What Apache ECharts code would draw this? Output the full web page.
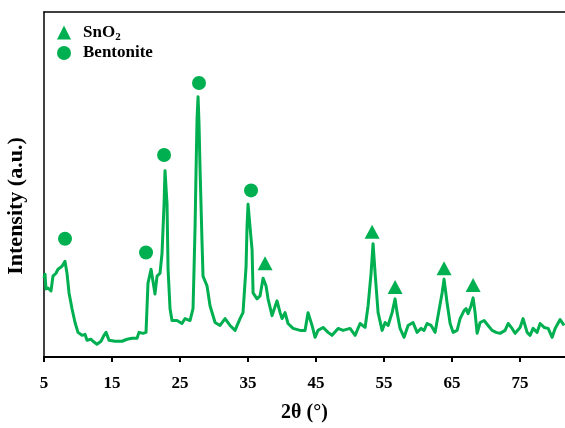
<!DOCTYPE html>
<html>
<head>
<meta charset="utf-8">
<title>XRD</title>
<script src="https://cdn.jsdelivr.net/npm/echarts@6/dist/echarts.min.js"></script>
<style>
  html, body { margin: 0; padding: 0; background: #fff; }
  #main { width: 565px; height: 428px; }
</style>
</head>
<body>
<div id="main"></div>
<script>
// 2theta (deg) / intensity (a.u.)
const twoTheta = [5.00,5.15,5.29,5.59,6.03,6.32,6.76,7.06,7.65,8.09,8.38,8.68,9.12,9.56,10.00,10.59,11.03,11.32,11.91,12.21,
  12.79,13.38,13.82,14.12,14.56,15.44,16.47,17.21,17.94,18.68,18.97,19.56,20.00,20.29,20.74,21.32,21.62,22.06,22.35,22.65,
  22.79,23.09,23.24,23.53,23.82,24.56,25.29,25.74,26.47,26.91,27.06,27.21,27.35,27.50,27.65,27.79,27.94,28.24,28.38,28.97,
  29.41,30.15,30.88,31.62,32.35,33.09,33.82,34.26,34.71,34.85,35.00,35.29,35.59,35.74,36.32,36.76,37.21,37.65,37.94,38.53,
  39.26,39.71,40.00,40.44,40.88,41.62,42.65,43.38,43.82,44.41,44.85,45.29,46.03,46.76,47.35,48.24,48.97,50.00,50.74,51.47,
  52.21,52.65,53.09,53.38,53.68,54.12,54.71,55.15,55.59,56.18,56.62,56.91,57.35,57.94,58.53,59.26,59.85,60.44,60.88,61.32,
  61.91,62.50,62.94,63.53,63.82,64.26,64.71,65.15,65.74,66.18,66.76,67.06,67.35,67.79,68.09,68.38,68.68,69.12,69.71,70.29,
  70.88,71.47,72.06,72.79,73.24,73.82,74.26,75.00,75.44,76.03,76.47,76.91,77.50,77.94,78.53,79.12,79.71,80.15,80.88,81.47];
const intensity = [80,84,69,70,67,82,85,89,92,97,85,65,49,35,25,22,23,17,18,16,
  13,16,22,25,17,16,16,18,19,19,25,24,25,75,89,64,82,85,105,155,
  189,155,89,49,37,37,34,39,37,49,89,132,187,242,264,237,192,115,82,72,
  52,35,32,39,32,27,39,45,92,132,155,132,109,65,59,62,80,72,59,42,
  57,45,39,45,34,29,27,27,45,32,20,27,30,25,22,29,27,29,22,34,
  30,52,85,115,85,45,27,35,32,45,59,45,29,20,32,35,25,29,27,34,
  32,25,42,65,79,55,34,25,27,39,47,49,44,52,60,45,24,35,37,32,
  27,25,24,27,34,29,24,30,39,25,22,29,25,34,30,29,20,29,38,32];

// phase markers
const snO2X = [37.5, 53.24, 56.62, 63.82, 68.09];
const snO2Y = [95, 127, 71, 90, 73];
const bentX = [8.09, 20.0, 22.65, 27.79, 35.44];
const bentY = [120, 106, 205, 278, 169];

const xTicks = [5, 15, 25, 35, 45, 55, 65, 75];

const green = '#00B050';
const serif = 'Liberation Serif';

function pairs(xs, ys) {
  return xs.map((x, i) => [x, ys[i]]);
}

const myChart = echarts.init(document.getElementById('main'));
const option = {
  animation: false,
  grid: { left: 44, right: 0, top: 12, bottom: 66 },
  legend: {
    orient: 'vertical',
    left: 52,
    top: 19,
    itemWidth: 14,
    itemHeight: 14,
    itemGap: 2,
    data: [
      { name: 'SnO2', icon: 'triangle' },
      { name: 'Bentonite', icon: 'circle' }
    ],
    formatter: function (name) {
      return name === 'SnO2' ? '{b|SnO}{sub|2}' : '{b|' + name + '}';
    },
    textStyle: {
      color: '#000',
      fontFamily: serif,
      fontWeight: 'bold',
      fontSize: 17,
      padding: [0, 0, 0, 7],
      rich: {
        b: { fontFamily: serif, fontWeight: 'bold', fontSize: 17, lineHeight: 20, color: '#000' },
        sub: { fontFamily: serif, fontWeight: 'bold', fontSize: 11, lineHeight: 11, verticalAlign: 'bottom', color: '#000' }
      }
    }
  },
  xAxis: [{
    type: 'value',
    min: 5,
    max: 81.6,
    interval: 10,
    name: '2θ (°)',
    nameLocation: 'middle',
    nameGap: 46,
    nameTextStyle: { fontFamily: serif, fontWeight: 'bold', fontSize: 20, color: '#000' },
    axisLine: { show: true, lineStyle: { color: '#000', width: 2 } },
    axisTick: { show: true, length: 5, lineStyle: { color: '#000', width: 2 } },
    axisLabel: {
      margin: 18,
      color: '#000',
      fontFamily: serif,
      fontWeight: 'bold',
      fontSize: 17,
      showMaxLabel: false,
      formatter: function (v) {
        return xTicks.indexOf(Math.round(v * 100) / 100) >= 0 ? String(v) : '';
      }
    },
    splitLine: { show: false }
  }, {
    type: 'value',
    position: 'top',
    min: 5,
    max: 81.6,
    axisLine: { show: true, lineStyle: { color: '#000', width: 1.5 } },
    axisTick: { show: false },
    axisLabel: { show: false },
    splitLine: { show: false }
  }],
  yAxis: {
    type: 'value',
    min: 0,
    max: 350,
    axisLine: { show: true, lineStyle: { color: '#000', width: 1.5 } },
    axisTick: { show: false },
    axisLabel: { show: false },
    splitLine: { show: false }
  },
  graphic: [{
    type: 'text',
    x: 16,
    y: 206,
    rotation: Math.PI / 2,
    style: {
      text: 'Intensity (a.u.)',
      fill: '#000',
      font: 'bold 22px "Liberation Serif"',
      align: 'center',
      verticalAlign: 'middle'
    }
  }],
  series: [
    {
      name: 'pattern',
      type: 'line',
      data: pairs(twoTheta, intensity),
      showSymbol: false,
      symbol: 'none',
      lineStyle: { color: green, width: 3, join: 'round' },
      z: 2
    },
    {
      name: 'SnO2',
      type: 'scatter',
      symbol: 'triangle',
      symbolSize: [15, 14],
      itemStyle: { color: green, opacity: 1 },
      data: pairs(snO2X, snO2Y),
      z: 3
    },
    {
      name: 'Bentonite',
      type: 'scatter',
      symbol: 'circle',
      symbolSize: 14,
      itemStyle: { color: green, opacity: 1 },
      data: pairs(bentX, bentY),
      z: 3
    }
  ]
};
myChart.setOption(option);
</script>
</body>
</html>
